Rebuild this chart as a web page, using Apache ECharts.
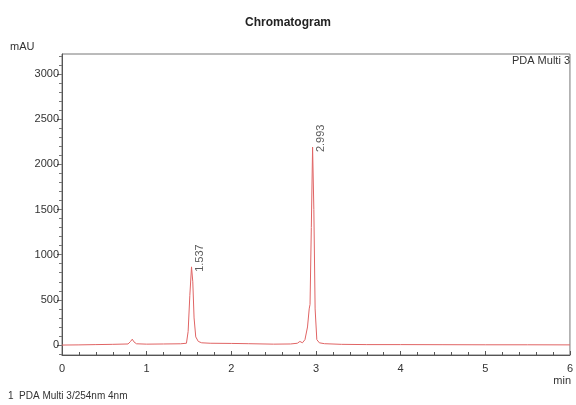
<!DOCTYPE html>
<html>
<head>
<meta charset="utf-8">
<script src="https://cdn.jsdelivr.net/npm/echarts@6/dist/echarts.min.js"></script>
<style>
  html, body { margin: 0; padding: 0; background: #fff; }
  #echart { width: 576px; height: 405px; }
</style>
</head>
<body>
<div id="echart"></div>
<script>
// retention time (min) and absorbance (mAU)
var times = [0, 0.2, 0.4, 0.6, 0.78, 0.81, 0.83, 0.85, 0.88, 1.0, 1.2, 1.4, 1.47, 1.49, 1.51, 1.53, 1.545, 1.56, 1.58, 1.61, 1.65, 1.75, 2.0, 2.2, 2.5, 2.7, 2.78, 2.81, 2.84, 2.87, 2.9, 2.92, 2.93, 2.945, 2.96, 2.975, 2.99, 3.01, 3.04, 3.1, 3.3, 3.6, 4.0, 4.5, 5.0, 5.5, 6.0];
var mau = [0, 2, 5, 8, 12, 40, 65, 35, 14, 10, 12, 14, 20, 150, 550, 865, 700, 300, 90, 40, 25, 20, 18, 15, 10, 12, 20, 40, 25, 60, 200, 400, 450, 1300, 2190, 1500, 400, 60, 25, 15, 8, 5, 5, 4, 3, 3, 2];

// labelled peaks
var peakTimes = [1.53, 2.96];
var peakHeights = [865, 2190];
var peakLabels = ['1.537', '2.993'];

var yTicks = [0, 500, 1000, 1500, 2000, 2500, 3000];
var yMinorTicks = [];
for (var v = -100; v <= 3200; v += 100) yMinorTicks.push(v);

var yMin = -110, yMax = 3220;

var line = times.map(function(t, i) { return [t, mau[i]]; });
var peaks = peakTimes.map(function(t, i) { return { value: [t, peakHeights[i]], label: { formatter: peakLabels[i] } }; });

var txt = '#333';
var font = 'Liberation Sans, Arial, sans-serif';

var myChart = echarts.init(document.getElementById('echart'));
myChart.setOption({
	animation: false,
	textStyle: { fontFamily: font },
	title: {
		text: 'Chromatogram',
		left: 'center',
		top: 12,
		textStyle: { fontSize: 12, fontWeight: 'bold', color: '#222', fontFamily: font }
	},
	graphic: [
		{ type: 'text', left: 10, top: 41, style: { text: 'mAU', fontSize: 11, fill: txt, fontFamily: font } },
		{ type: 'text', right: 6, top: 55, style: { text: 'PDA Multi 3', fontSize: 11, fill: txt, fontFamily: font } },
		{ type: 'text', right: 5, top: 375, style: { text: 'min', fontSize: 11, fill: txt, fontFamily: font } },
		{ type: 'text', left: 8, top: 391, style: { text: '1  PDA Multi 3/254nm 4nm', fontSize: 10, fill: txt, fontFamily: font } }
	],
	grid: {
		left: 62, right: 3, top: 54, bottom: 50,
		show: true, borderColor: '#777', borderWidth: 1
	},
	xAxis: {
		type: 'value',
		min: 0, max: 6, interval: 1,
		axisLine: { onZero: false, lineStyle: { color: '#555' } },
		axisTick: { inside: true, length: 4, lineStyle: { color: '#555' } },
		minorTick: { show: true, splitNumber: 5, length: 3, lineStyle: { color: '#555' } },
		axisLabel: { color: txt, fontSize: 11, margin: 8 },
		splitLine: { show: false }
	},
	yAxis: [{
		type: 'value',
		min: yMin, max: yMax,
		axisLine: { show: true, lineStyle: { color: '#555' } },
		axisTick: { show: true, length: 5, customValues: yTicks, lineStyle: { color: '#555' } },
		axisLabel: {
			color: txt, fontSize: 11, margin: 3, customValues: yTicks,
			formatter: function(val) { return String(val); }
		},
		splitLine: { show: false }
	}, {
		type: 'value',
		position: 'left',
		min: yMin, max: yMax,
		axisLine: { show: false },
		axisTick: { show: true, length: 3, customValues: yMinorTicks, lineStyle: { color: '#777' } },
		axisLabel: { show: false },
		splitLine: { show: false }
	}],
	series: [{
		name: 'PDA Multi 3',
		type: 'line',
		data: line,
		showSymbol: false,
		lineStyle: { color: '#e06464', width: 1 },
		z: 3
	}, {
		type: 'scatter',
		data: peaks,
		symbolSize: 0.1,
		label: {
			show: true,
			rotate: 90,
			position: [3, 5],
			align: 'left',
			verticalAlign: 'top',
			fontSize: 11,
			color: txt
		},
		z: 4
	}]
});
</script>
</body>
</html>
